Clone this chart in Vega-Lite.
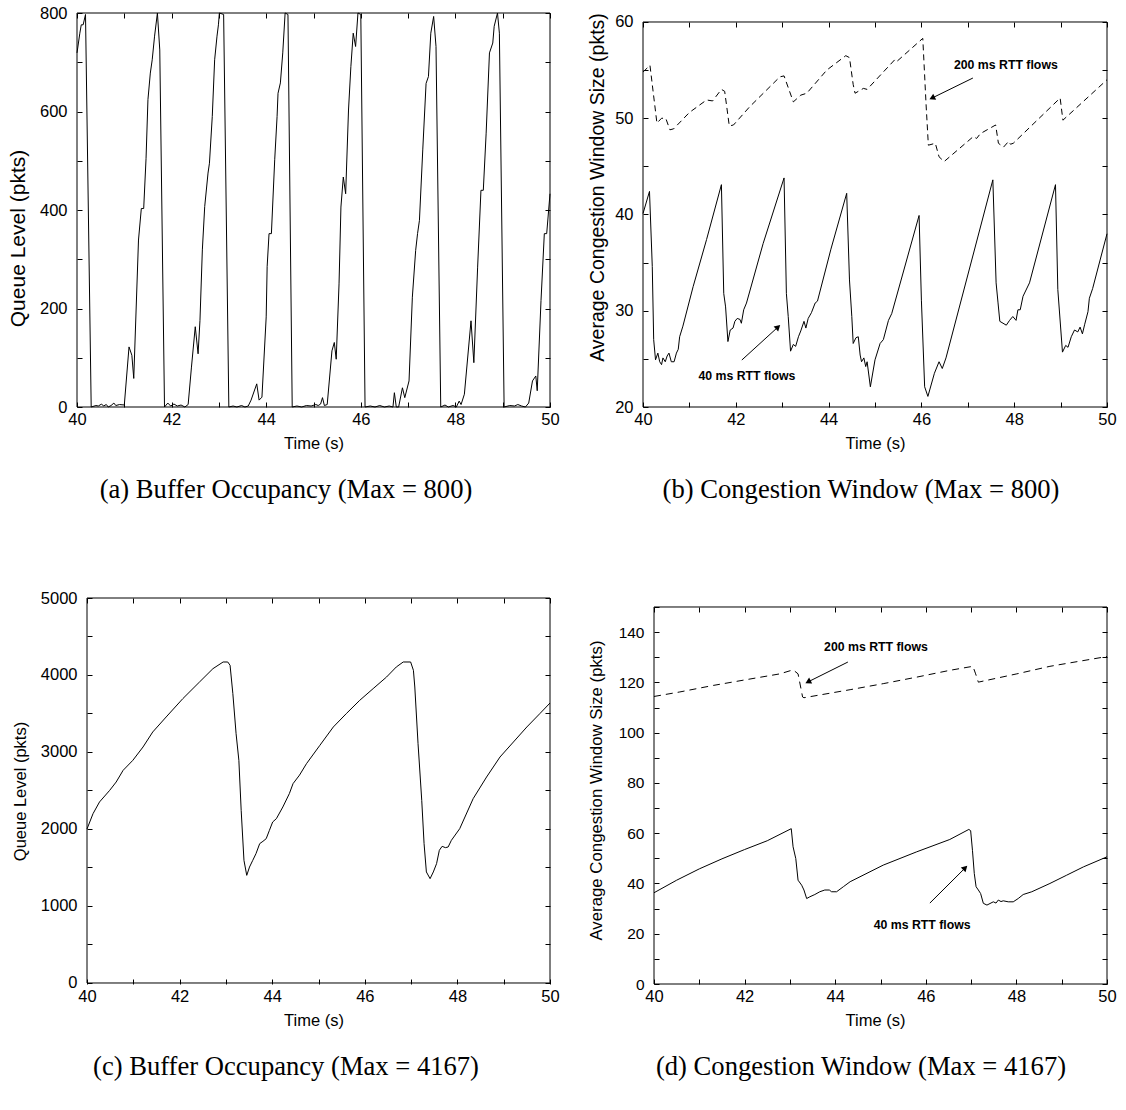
{
  "$schema": "https://vega.github.io/schema/vega-lite/v6.json",
  "background": "white",
  "padding": {"left": 7, "top": 5, "right": 10, "bottom": 10},
  "config": {
    "view": {"stroke": null},
    "font": "Liberation Sans",
    "axis": {"labelFont": "Liberation Sans", "titleFont": "Liberation Sans", "labelFontSize": 16.5, "titleFontSize": 16.5, "labelColor": "black", "titleColor": "black", "tickColor": "black", "tickWidth": 1, "tickSize": -5, "domain": false, "grid": false, "labelFlush": false, "labelOverlap": false, "titleFontWeight": "normal"},
    "title": {"font": "Liberation Serif", "fontSize": 26.6, "fontWeight": "normal", "color": "black"}
  },
  "datasets": {
    "a": [
      {"t":40.00,"v":719},{"t":40.06,"v":759},{"t":40.09,"v":776},{"t":40.13,"v":776},{"t":40.18,"v":797},{"t":40.30,"v":0},{"t":40.40,"v":3},{"t":40.45,"v":2},{"t":40.52,"v":6},{"t":40.56,"v":2},{"t":40.62,"v":5},{"t":40.66,"v":0},{"t":40.72,"v":3},{"t":40.78,"v":8},{"t":40.82,"v":3},{"t":40.90,"v":5},{"t":41.00,"v":4},{"t":41.10,"v":122},{"t":41.16,"v":105},{"t":41.20,"v":58},{"t":41.30,"v":339},{"t":41.36,"v":403},{"t":41.41,"v":403},{"t":41.46,"v":505},{"t":41.50,"v":624},{"t":41.55,"v":678},{"t":41.59,"v":705},{"t":41.64,"v":753},{"t":41.70,"v":800},{"t":41.75,"v":725},{"t":41.85,"v":0},{"t":41.92,"v":8},{"t":41.98,"v":2},{"t":42.05,"v":6},{"t":42.12,"v":2},{"t":42.20,"v":4},{"t":42.28,"v":0},{"t":42.35,"v":5},{"t":42.42,"v":81},{"t":42.50,"v":163},{"t":42.56,"v":108},{"t":42.60,"v":176},{"t":42.65,"v":319},{"t":42.70,"v":407},{"t":42.77,"v":475},{"t":42.80,"v":495},{"t":42.86,"v":590},{"t":42.91,"v":705},{"t":42.96,"v":753},{"t":42.99,"v":776},{"t":43.01,"v":800},{"t":43.10,"v":797},{"t":43.21,"v":0},{"t":43.30,"v":2},{"t":43.38,"v":0},{"t":43.48,"v":3},{"t":43.55,"v":0},{"t":43.62,"v":2},{"t":43.68,"v":14},{"t":43.80,"v":47},{"t":43.85,"v":14},{"t":43.91,"v":20},{"t":44.00,"v":183},{"t":44.02,"v":285},{"t":44.06,"v":352},{"t":44.11,"v":352},{"t":44.18,"v":502},{"t":44.23,"v":590},{"t":44.25,"v":637},{"t":44.30,"v":658},{"t":44.35,"v":719},{"t":44.40,"v":800},{"t":44.46,"v":797},{"t":44.55,"v":0},{"t":44.65,"v":2},{"t":44.75,"v":0},{"t":44.85,"v":3},{"t":44.95,"v":2},{"t":45.05,"v":5},{"t":45.10,"v":3},{"t":45.15,"v":6},{"t":45.19,"v":19},{"t":45.23,"v":3},{"t":45.29,"v":5},{"t":45.39,"v":114},{"t":45.44,"v":131},{"t":45.48,"v":97},{"t":45.54,"v":250},{"t":45.58,"v":406},{"t":45.63,"v":467},{"t":45.68,"v":433},{"t":45.74,"v":603},{"t":45.79,"v":691},{"t":45.84,"v":759},{"t":45.89,"v":732},{"t":45.94,"v":800},{"t":46.00,"v":797},{"t":46.09,"v":0},{"t":46.20,"v":2},{"t":46.30,"v":0},{"t":46.40,"v":3},{"t":46.50,"v":0},{"t":46.60,"v":2},{"t":46.68,"v":0},{"t":46.71,"v":29},{"t":46.75,"v":0},{"t":46.80,"v":0},{"t":46.88,"v":39},{"t":46.93,"v":19},{"t":47.02,"v":53},{"t":47.09,"v":223},{"t":47.16,"v":318},{"t":47.20,"v":352},{"t":47.24,"v":379},{"t":47.31,"v":522},{"t":47.38,"v":657},{"t":47.43,"v":671},{"t":47.48,"v":759},{"t":47.54,"v":793},{"t":47.59,"v":732},{"t":47.69,"v":0},{"t":47.78,"v":4},{"t":47.85,"v":0},{"t":47.95,"v":3},{"t":48.02,"v":0},{"t":48.08,"v":12},{"t":48.12,"v":5},{"t":48.19,"v":26},{"t":48.33,"v":175},{"t":48.39,"v":90},{"t":48.47,"v":284},{"t":48.54,"v":440},{"t":48.59,"v":440},{"t":48.65,"v":556},{"t":48.72,"v":719},{"t":48.79,"v":739},{"t":48.82,"v":773},{"t":48.89,"v":800},{"t":48.93,"v":759},{"t":49.03,"v":0},{"t":49.15,"v":3},{"t":49.25,"v":2},{"t":49.32,"v":5},{"t":49.40,"v":2},{"t":49.48,"v":0},{"t":49.55,"v":8},{"t":49.63,"v":53},{"t":49.70,"v":63},{"t":49.73,"v":33},{"t":49.81,"v":216},{"t":49.88,"v":352},{"t":49.93,"v":352},{"t":50.00,"v":433}
    ],
    "b40": [
      {"t":40.00,"v":40.1},{"t":40.14,"v":42.4},{"t":40.20,"v":34.6},{"t":40.23,"v":27.0},{"t":40.27,"v":24.9},{"t":40.32,"v":25.6},{"t":40.36,"v":24.7},{"t":40.40,"v":24.4},{"t":40.43,"v":25.1},{"t":40.48,"v":24.7},{"t":40.52,"v":25.3},{"t":40.56,"v":25.6},{"t":40.61,"v":24.7},{"t":40.67,"v":24.7},{"t":40.72,"v":25.6},{"t":40.76,"v":26.0},{"t":40.79,"v":27.3},{"t":40.86,"v":28.4},{"t":41.08,"v":32.5},{"t":41.37,"v":37.4},{"t":41.69,"v":43.1},{"t":41.74,"v":31.8},{"t":41.78,"v":30.4},{"t":41.83,"v":26.8},{"t":41.88,"v":28.0},{"t":41.94,"v":28.2},{"t":41.98,"v":28.9},{"t":42.03,"v":29.2},{"t":42.09,"v":29.1},{"t":42.12,"v":28.7},{"t":42.17,"v":30.1},{"t":42.23,"v":30.8},{"t":42.59,"v":37.0},{"t":43.04,"v":43.8},{"t":43.09,"v":31.8},{"t":43.13,"v":29.4},{"t":43.18,"v":25.8},{"t":43.24,"v":26.5},{"t":43.29,"v":26.3},{"t":43.35,"v":27.3},{"t":43.40,"v":27.9},{"t":43.47,"v":28.9},{"t":43.51,"v":28.2},{"t":43.56,"v":29.2},{"t":43.63,"v":29.8},{"t":43.71,"v":30.8},{"t":43.76,"v":31.0},{"t":44.05,"v":36.4},{"t":44.39,"v":42.2},{"t":44.45,"v":33.2},{"t":44.50,"v":29.4},{"t":44.53,"v":26.6},{"t":44.59,"v":27.2},{"t":44.64,"v":27.3},{"t":44.68,"v":25.4},{"t":44.71,"v":24.7},{"t":44.76,"v":25.1},{"t":44.80,"v":24.2},{"t":44.83,"v":24.7},{"t":44.90,"v":22.1},{"t":45.00,"v":24.9},{"t":45.11,"v":26.6},{"t":45.18,"v":27.0},{"t":45.29,"v":29.0},{"t":45.36,"v":29.7},{"t":45.95,"v":39.9},{"t":46.00,"v":31.1},{"t":46.07,"v":22.1},{"t":46.14,"v":21.1},{"t":46.28,"v":23.5},{"t":46.38,"v":24.7},{"t":46.45,"v":24.0},{"t":46.53,"v":25.1},{"t":47.54,"v":43.6},{"t":47.61,"v":32.9},{"t":47.65,"v":30.9},{"t":47.69,"v":28.9},{"t":47.83,"v":28.5},{"t":47.90,"v":29.0},{"t":47.97,"v":29.4},{"t":48.04,"v":29.0},{"t":48.08,"v":30.1},{"t":48.13,"v":30.1},{"t":48.19,"v":31.5},{"t":48.33,"v":32.9},{"t":48.89,"v":43.1},{"t":48.94,"v":32.2},{"t":49.04,"v":25.7},{"t":49.11,"v":26.4},{"t":49.16,"v":26.2},{"t":49.23,"v":27.3},{"t":49.30,"v":28.0},{"t":49.37,"v":27.8},{"t":49.42,"v":28.3},{"t":49.47,"v":27.6},{"t":49.52,"v":28.6},{"t":49.59,"v":29.9},{"t":49.62,"v":31.3},{"t":49.69,"v":32.3},{"t":50.00,"v":38.0}
    ],
    "b200": [
      {"t":40.00,"v":54.8},{"t":40.15,"v":55.5},{"t":40.30,"v":49.5},{"t":40.40,"v":50.0},{"t":40.49,"v":50.0},{"t":40.58,"v":48.8},{"t":40.66,"v":48.9},{"t":41.00,"v":50.6},{"t":41.37,"v":51.9},{"t":41.50,"v":51.8},{"t":41.69,"v":53.0},{"t":41.76,"v":52.8},{"t":41.86,"v":49.2},{"t":41.95,"v":49.3},{"t":42.30,"v":51.2},{"t":42.95,"v":54.3},{"t":43.04,"v":54.4},{"t":43.24,"v":51.7},{"t":43.40,"v":52.4},{"t":43.53,"v":52.6},{"t":43.96,"v":55.0},{"t":44.37,"v":56.5},{"t":44.45,"v":56.3},{"t":44.53,"v":53.5},{"t":44.57,"v":52.6},{"t":44.75,"v":53.1},{"t":44.83,"v":53.0},{"t":45.43,"v":56.1},{"t":45.47,"v":55.9},{"t":46.03,"v":58.3},{"t":46.10,"v":51.5},{"t":46.15,"v":47.2},{"t":46.30,"v":47.4},{"t":46.38,"v":46.0},{"t":46.49,"v":45.5},{"t":47.12,"v":48.1},{"t":47.19,"v":47.9},{"t":47.27,"v":48.4},{"t":47.60,"v":49.3},{"t":47.66,"v":47.4},{"t":47.77,"v":47.0},{"t":47.88,"v":47.6},{"t":47.92,"v":47.3},{"t":47.98,"v":47.4},{"t":48.99,"v":52.1},{"t":49.05,"v":49.8},{"t":50.00,"v":54.0}
    ],
    "c": [
      {"t":40.00,"v":2000},{"t":40.13,"v":2199},{"t":40.27,"v":2351},{"t":40.49,"v":2502},{"t":40.63,"v":2610},{"t":40.78,"v":2762},{"t":40.85,"v":2805},{"t":40.99,"v":2892},{"t":41.21,"v":3065},{"t":41.42,"v":3260},{"t":41.71,"v":3455},{"t":42.07,"v":3693},{"t":42.43,"v":3909},{"t":42.72,"v":4082},{"t":42.94,"v":4169},{"t":43.04,"v":4169},{"t":43.09,"v":4126},{"t":43.15,"v":3758},{"t":43.22,"v":3238},{"t":43.28,"v":2892},{"t":43.33,"v":2242},{"t":43.39,"v":1593},{"t":43.45,"v":1398},{"t":43.51,"v":1506},{"t":43.58,"v":1593},{"t":43.65,"v":1680},{"t":43.73,"v":1810},{"t":43.80,"v":1840},{"t":43.87,"v":1874},{"t":43.94,"v":1983},{"t":44.01,"v":2091},{"t":44.09,"v":2134},{"t":44.23,"v":2286},{"t":44.37,"v":2459},{"t":44.45,"v":2589},{"t":44.59,"v":2700},{"t":44.74,"v":2848},{"t":45.03,"v":3087},{"t":45.32,"v":3325},{"t":45.60,"v":3498},{"t":45.89,"v":3671},{"t":46.18,"v":3823},{"t":46.47,"v":3974},{"t":46.68,"v":4104},{"t":46.83,"v":4169},{"t":46.99,"v":4169},{"t":47.05,"v":4061},{"t":47.08,"v":3844},{"t":47.15,"v":3108},{"t":47.23,"v":2372},{"t":47.28,"v":1810},{"t":47.33,"v":1442},{"t":47.41,"v":1355},{"t":47.48,"v":1442},{"t":47.55,"v":1550},{"t":47.61,"v":1723},{"t":47.67,"v":1775},{"t":47.74,"v":1758},{"t":47.80,"v":1766},{"t":47.87,"v":1853},{"t":48.05,"v":2004},{"t":48.34,"v":2394},{"t":48.63,"v":2675},{"t":48.92,"v":2935},{"t":49.21,"v":3130},{"t":49.50,"v":3325},{"t":49.78,"v":3498},{"t":50.00,"v":3636}
    ],
    "d40": [
      {"t":40.00,"v":36.3},{"t":40.50,"v":41.3},{"t":41.00,"v":45.8},{"t":41.50,"v":49.8},{"t":42.00,"v":53.5},{"t":42.50,"v":57.0},{"t":43.03,"v":61.8},{"t":43.07,"v":54.6},{"t":43.13,"v":49.9},{"t":43.18,"v":41.3},{"t":43.26,"v":39.3},{"t":43.31,"v":37.4},{"t":43.37,"v":34.0},{"t":43.44,"v":34.7},{"t":43.55,"v":35.6},{"t":43.66,"v":36.7},{"t":43.77,"v":37.4},{"t":43.87,"v":37.4},{"t":43.92,"v":36.7},{"t":44.03,"v":36.7},{"t":44.18,"v":38.7},{"t":44.33,"v":40.7},{"t":45.06,"v":47.3},{"t":45.80,"v":52.6},{"t":46.53,"v":57.5},{"t":46.95,"v":61.5},{"t":46.99,"v":61.0},{"t":47.03,"v":53.2},{"t":47.07,"v":44.0},{"t":47.11,"v":38.7},{"t":47.16,"v":37.4},{"t":47.21,"v":36.0},{"t":47.27,"v":32.1},{"t":47.35,"v":31.4},{"t":47.49,"v":32.7},{"t":47.55,"v":32.2},{"t":47.60,"v":33.4},{"t":47.66,"v":32.8},{"t":47.71,"v":33.1},{"t":47.82,"v":32.7},{"t":47.93,"v":32.7},{"t":48.04,"v":34.0},{"t":48.15,"v":35.6},{"t":48.34,"v":36.7},{"t":48.74,"v":40.0},{"t":49.11,"v":43.3},{"t":49.48,"v":46.6},{"t":50.00,"v":50.6}
    ],
    "d200": [
      {"t":40.00,"v":114.4},{"t":40.57,"v":116.2},{"t":41.31,"v":118.8},{"t":42.04,"v":121.1},{"t":42.78,"v":123.4},{"t":43.07,"v":125.0},{"t":43.18,"v":123.4},{"t":43.28,"v":114.2},{"t":43.31,"v":113.9},{"t":44.33,"v":117.1},{"t":45.06,"v":119.5},{"t":45.80,"v":122.1},{"t":46.53,"v":124.8},{"t":47.04,"v":126.4},{"t":47.10,"v":123.4},{"t":47.16,"v":120.1},{"t":48.01,"v":123.4},{"t":48.74,"v":126.4},{"t":50.00,"v":130.3}
    ],
    "ann": [
      {"p":"b","t":47.82,"v":55.53,"label":"200 ms RTT flows"},
      {"p":"b","t":42.24,"v":23.2,"label":"40 ms RTT flows"},
      {"p":"d","t":44.90,"v":134.1,"label":"200 ms RTT flows"},
      {"p":"d","t":45.92,"v":23.5,"label":"40 ms RTT flows"}
    ],
    "arrows": [
      {"p":"b","id":"b1","t1":47.11,"v1":54.18,"t2":46.23,"v2":52.10},
      {"p":"b","id":"b2","t1":42.13,"v1":24.88,"t2":42.91,"v2":28.31},
      {"p":"d","id":"d1","t1":44.28,"v1":128.1,"t2":43.40,"v2":120.2},
      {"p":"d","id":"d2","t1":46.09,"v1":32.2,"t2":46.87,"v2":46.2}
    ]
  },
  "columns": 2,
  "bounds": "flush",
  "spacing": {"row": 191, "column": 93},
  "concat": [
    {
      "width": 473, "height": 394,
      "title": {"text": "(a) Buffer Occupancy (Max = 800)", "orient": "bottom", "anchor": "middle", "dx": -27.5, "offset": 25},
      "layer": [
        {
          "data": {"name": "a"},
          "mark": {"type": "line", "color": "black", "strokeWidth": 1},
          "encoding": {
            "x": {"field": "t", "type": "quantitative", "scale": {"domain": [40, 50], "nice": false, "zero": false},
                  "axis": {"orient": "bottom", "values": [40,41,42,43,44,45,46,47,48,49,50], "format": "d", "labelExpr": "datum.value % 2 === 0 ? datum.label : ''", "title": "Time (s)", "titleY": 28, "tickSize": -5, "labelPadding": 9}},
            "y": {"field": "v", "type": "quantitative", "scale": {"domain": [0, 800], "nice": false, "zero": false},
                  "axis": {"orient": "left", "values": [0,100,200,300,400,500,600,700,800], "format": "d", "labelExpr": "datum.value % 200 === 0 ? datum.label : ''", "title": "Queue Level (pkts)", "titleX": -49, "titleY": 225, "titleAngle": 270, "titleBaseline": "bottom", "titleAlign": "center", "titleFontSize": 21, "tickSize": -5, "labelPadding": 15}}
          }
        },
        {
          "data": {"values": [{}]},
          "mark": {"type": "rect", "filled": false, "color": "black", "strokeWidth": 1},
          "encoding": {
            "x": {"datum": 40, "type": "quantitative", "scale": {"domain": [40, 50], "nice": false, "zero": false},
                  "axis": {"orient": "top", "values": [40,41,42,43,44,45,46,47,48,49,50], "labels": false, "title": null, "tickSize": -5}},
            "x2": {"datum": 50},
            "y": {"datum": 0, "type": "quantitative", "scale": {"domain": [0, 800], "nice": false, "zero": false},
                  "axis": {"orient": "right", "values": [0,100,200,300,400,500,600,700,800], "labels": false, "title": null, "tickSize": -5}},
            "y2": {"datum": 800}
          }
        }
      ],
      "resolve": {"axis": {"x": "independent", "y": "independent"}}
    },
    {
      "width": 464, "height": 394,
      "title": {"text": "(b) Congestion Window (Max = 800)", "orient": "bottom", "anchor": "middle", "dx": -14, "offset": 25},
      "layer": [
        {
          "data": {"name": "b40"},
          "mark": {"type": "line", "color": "black", "strokeWidth": 1},
          "encoding": {
            "x": {"field": "t", "type": "quantitative", "scale": {"domain": [40, 50], "nice": false, "zero": false},
                  "axis": {"orient": "bottom", "values": [40,41,42,43,44,45,46,47,48,49,50], "format": "d", "labelExpr": "datum.value % 2 === 0 ? datum.label : ''", "title": "Time (s)", "titleY": 28, "tickSize": -5, "labelPadding": 9}},
            "y": {"field": "v", "type": "quantitative", "scale": {"domain": [20, 60.935], "nice": false, "zero": false},
                  "axis": {"orient": "left", "values": [20,25,30,35,40,45,50,55,60], "format": "d", "labelExpr": "datum.value % 10 === 0 ? datum.label : ''", "title": "Average Congestion Window Size (pkts)", "titleX": -36, "titleY": 174, "titleAngle": 270, "titleBaseline": "bottom", "titleAlign": "center", "titleFontSize": 19.5, "tickSize": -5, "labelPadding": 15}}
          }
        },
        {
          "data": {"values": [{}]},
          "mark": {"type": "rect", "filled": false, "color": "black", "strokeWidth": 1},
          "encoding": {
            "x": {"datum": 40, "type": "quantitative", "scale": {"domain": [40, 50], "nice": false, "zero": false},
                  "axis": {"orient": "top", "offset": -9, "values": [40,41,42,43,44,45,46,47,48,49,50], "labels": false, "title": null, "tickSize": -5}},
            "x2": {"datum": 50},
            "y": {"datum": 20, "type": "quantitative", "scale": {"domain": [20, 60.935], "nice": false, "zero": false},
                  "axis": {"orient": "right", "values": [20,25,30,35,40,45,50,55,60], "labels": false, "title": null, "tickSize": -5}},
            "y2": {"datum": 60}
          }
        },
        {
          "data": {"name": "b200"},
          "mark": {"type": "line", "color": "black", "strokeWidth": 1, "strokeDash": [6, 4]},
          "encoding": {
            "x": {"field": "t", "type": "quantitative", "scale": {"domain": [40, 50], "nice": false, "zero": false}, "axis": null},
            "y": {"field": "v", "type": "quantitative", "scale": {"domain": [20, 60.935], "nice": false, "zero": false}, "axis": null}
          }
        },
        {
          "data": {"name": "ann"},
          "transform": [{"filter": "datum.p === 'b'"}],
          "mark": {"type": "text", "font": "Liberation Sans", "fontWeight": "bold", "fontSize": 12.3, "color": "black", "align": "center", "baseline": "middle"},
          "encoding": {
            "x": {"field": "t", "type": "quantitative", "scale": {"domain": [40, 50], "nice": false, "zero": false}, "axis": null},
            "y": {"field": "v", "type": "quantitative", "scale": {"domain": [20, 60.935], "nice": false, "zero": false}, "axis": null},
            "text": {"field": "label"}
          }
        },
        {
          "data": {"name": "arrows"},
          "transform": [{"filter": "datum.p === 'b'"}],
          "mark": {"type": "rule", "color": "black", "strokeWidth": 1},
          "encoding": {
            "x": {"field": "t1", "type": "quantitative", "scale": {"domain": [40, 50], "nice": false, "zero": false}, "axis": null},
            "y": {"field": "v1", "type": "quantitative", "scale": {"domain": [20, 60.935], "nice": false, "zero": false}, "axis": null},
            "x2": {"field": "t2"},
            "y2": {"field": "v2"}
          }
        },
        {
          "data": {"name": "arrows"},
          "transform": [{"filter": "datum.id === 'b1'"}],
          "mark": {"type": "point", "shape": "triangle-up", "filled": true, "color": "black", "opacity": 1, "size": 45, "angle": 244},
          "encoding": {
            "x": {"field": "t2", "type": "quantitative", "scale": {"domain": [40, 50], "nice": false, "zero": false}, "axis": null},
            "y": {"field": "v2", "type": "quantitative", "scale": {"domain": [20, 60.935], "nice": false, "zero": false}, "axis": null}
          }
        },
        {
          "data": {"name": "arrows"},
          "transform": [{"filter": "datum.id === 'b2'"}],
          "mark": {"type": "point", "shape": "triangle-up", "filled": true, "color": "black", "opacity": 1, "size": 45, "angle": 47.5},
          "encoding": {
            "x": {"field": "t2", "type": "quantitative", "scale": {"domain": [40, 50], "nice": false, "zero": false}, "axis": null},
            "y": {"field": "v2", "type": "quantitative", "scale": {"domain": [20, 60.935], "nice": false, "zero": false}, "axis": null}
          }
        }
      ],
      "resolve": {"axis": {"x": "independent", "y": "independent"}}
    },
    {
      "width": 473, "height": 386,
      "title": {"text": "(c) Buffer Occupancy (Max = 4167)", "orient": "bottom", "anchor": "middle", "dx": -27.5, "offset": 25},
      "layer": [
        {
          "data": {"name": "c"},
          "mark": {"type": "line", "color": "black", "strokeWidth": 1},
          "encoding": {
            "x": {"field": "t", "type": "quantitative", "scale": {"domain": [39.784, 50], "nice": false, "zero": false},
                  "axis": {"orient": "bottom", "values": [40,41,42,43,44,45,46,47,48,49,50], "format": "d", "labelExpr": "datum.value % 2 === 0 ? datum.label : ''", "title": "Time (s)", "titleY": 28, "tickSize": -5, "labelPadding": 9}},
            "y": {"field": "v", "type": "quantitative", "scale": {"domain": [-13, 5000], "nice": false, "zero": false},
                  "axis": {"orient": "left", "offset": -10, "values": [0,500,1000,1500,2000,2500,3000,3500,4000,4500,5000], "format": "d", "labelExpr": "datum.value % 1000 === 0 ? datum.label : ''", "title": "Queue Level (pkts)", "titleX": -59, "titleY": 193, "titleAngle": 270, "titleBaseline": "bottom", "titleAlign": "center", "titleFontSize": 16.5, "tickSize": -5, "labelPadding": 15}}
          }
        },
        {
          "data": {"values": [{}]},
          "mark": {"type": "rect", "filled": false, "color": "black", "strokeWidth": 1},
          "encoding": {
            "x": {"datum": 40, "type": "quantitative", "scale": {"domain": [39.784, 50], "nice": false, "zero": false},
                  "axis": {"orient": "top", "values": [40,41,42,43,44,45,46,47,48,49,50], "labels": false, "title": null, "tickSize": -5}},
            "x2": {"datum": 50},
            "y": {"datum": 0, "type": "quantitative", "scale": {"domain": [-13, 5000], "nice": false, "zero": false},
                  "axis": {"orient": "right", "values": [0,500,1000,1500,2000,2500,3000,3500,4000,4500,5000], "labels": false, "title": null, "tickSize": -5}},
            "y2": {"datum": 5000}
          }
        }
      ],
      "resolve": {"axis": {"x": "independent", "y": "independent"}}
    },
    {
      "width": 464, "height": 386,
      "title": {"text": "(d) Congestion Window (Max = 4167)", "orient": "bottom", "anchor": "middle", "dx": -14, "offset": 25},
      "layer": [
        {
          "data": {"name": "d40"},
          "mark": {"type": "line", "color": "black", "strokeWidth": 1},
          "encoding": {
            "x": {"field": "t", "type": "quantitative", "scale": {"domain": [39.757, 50], "nice": false, "zero": false},
                  "axis": {"orient": "bottom", "values": [40,41,42,43,44,45,46,47,48,49,50], "format": "d", "labelExpr": "datum.value % 2 === 0 ? datum.label : ''", "title": "Time (s)", "titleY": 28, "tickSize": -5, "labelPadding": 9}},
            "y": {"field": "v", "type": "quantitative", "scale": {"domain": [0, 153.58], "nice": false, "zero": false},
                  "axis": {"orient": "left", "offset": -11, "values": [0,10,20,30,40,50,60,70,80,90,100,110,120,130,140,150], "format": "d", "labelExpr": "datum.value % 20 === 0 && datum.value <= 140 ? datum.label : ''", "title": "Average Congestion Window Size (pkts)", "titleX": -49, "titleY": 192, "titleAngle": 270, "titleBaseline": "bottom", "titleAlign": "center", "titleFontSize": 16.8, "labelFontSize": 15.5, "tickSize": -5, "labelPadding": 15}}
          }
        },
        {
          "data": {"values": [{}]},
          "mark": {"type": "rect", "filled": false, "color": "black", "strokeWidth": 1},
          "encoding": {
            "x": {"datum": 40, "type": "quantitative", "scale": {"domain": [39.757, 50], "nice": false, "zero": false},
                  "axis": {"orient": "top", "offset": -9, "values": [40,41,42,43,44,45,46,47,48,49,50], "labels": false, "title": null, "tickSize": -5}},
            "x2": {"datum": 50},
            "y": {"datum": 0, "type": "quantitative", "scale": {"domain": [0, 153.58], "nice": false, "zero": false},
                  "axis": {"orient": "right", "values": [0,10,20,30,40,50,60,70,80,90,100,110,120,130,140,150], "labels": false, "title": null, "tickSize": -5}},
            "y2": {"datum": 150}
          }
        },
        {
          "data": {"name": "d200"},
          "mark": {"type": "line", "color": "black", "strokeWidth": 1, "strokeDash": [7, 5]},
          "encoding": {
            "x": {"field": "t", "type": "quantitative", "scale": {"domain": [39.757, 50], "nice": false, "zero": false}, "axis": null},
            "y": {"field": "v", "type": "quantitative", "scale": {"domain": [0, 153.58], "nice": false, "zero": false}, "axis": null}
          }
        },
        {
          "data": {"name": "ann"},
          "transform": [{"filter": "datum.p === 'd'"}],
          "mark": {"type": "text", "font": "Liberation Sans", "fontWeight": "bold", "fontSize": 12.3, "color": "black", "align": "center", "baseline": "middle"},
          "encoding": {
            "x": {"field": "t", "type": "quantitative", "scale": {"domain": [39.757, 50], "nice": false, "zero": false}, "axis": null},
            "y": {"field": "v", "type": "quantitative", "scale": {"domain": [0, 153.58], "nice": false, "zero": false}, "axis": null},
            "text": {"field": "label"}
          }
        },
        {
          "data": {"name": "arrows"},
          "transform": [{"filter": "datum.p === 'd'"}],
          "mark": {"type": "rule", "color": "black", "strokeWidth": 1},
          "encoding": {
            "x": {"field": "t1", "type": "quantitative", "scale": {"domain": [39.757, 50], "nice": false, "zero": false}, "axis": null},
            "y": {"field": "v1", "type": "quantitative", "scale": {"domain": [0, 153.58], "nice": false, "zero": false}, "axis": null},
            "x2": {"field": "t2"},
            "y2": {"field": "v2"}
          }
        },
        {
          "data": {"name": "arrows"},
          "transform": [{"filter": "datum.id === 'd1'"}],
          "mark": {"type": "point", "shape": "triangle-up", "filled": true, "color": "black", "opacity": 1, "size": 45, "angle": 243.4},
          "encoding": {
            "x": {"field": "t2", "type": "quantitative", "scale": {"domain": [39.757, 50], "nice": false, "zero": false}, "axis": null},
            "y": {"field": "v2", "type": "quantitative", "scale": {"domain": [0, 153.58], "nice": false, "zero": false}, "axis": null}
          }
        },
        {
          "data": {"name": "arrows"},
          "transform": [{"filter": "datum.id === 'd2'"}],
          "mark": {"type": "point", "shape": "triangle-up", "filled": true, "color": "black", "opacity": 1, "size": 45, "angle": 45},
          "encoding": {
            "x": {"field": "t2", "type": "quantitative", "scale": {"domain": [39.757, 50], "nice": false, "zero": false}, "axis": null},
            "y": {"field": "v2", "type": "quantitative", "scale": {"domain": [0, 153.58], "nice": false, "zero": false}, "axis": null}
          }
        }
      ],
      "resolve": {"axis": {"x": "independent", "y": "independent"}}
    }
  ]
}
